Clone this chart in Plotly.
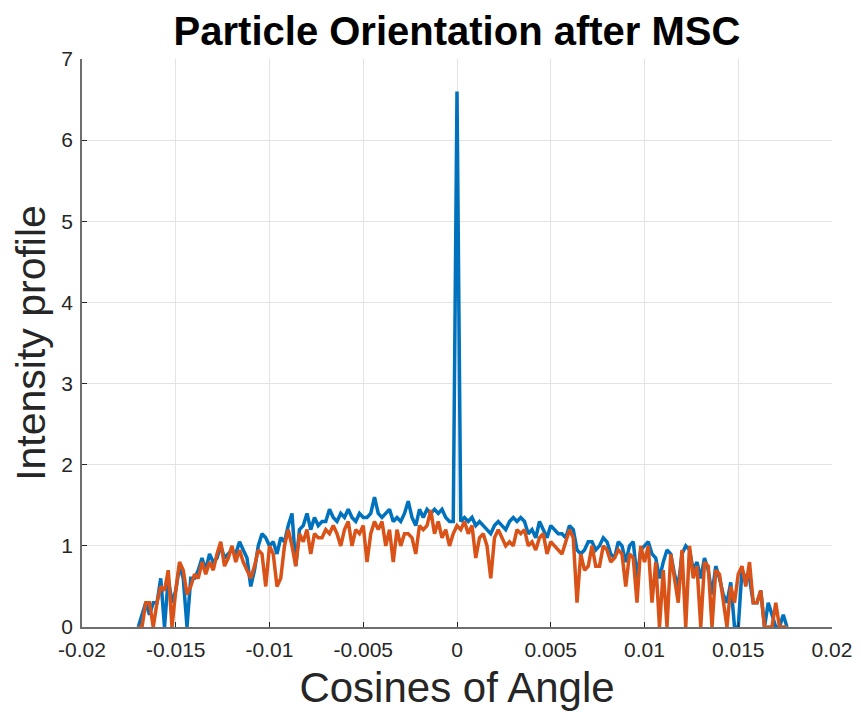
import numpy as np
import plotly.graph_objects as go

# bin centres: -0.0170 ... 0.0176 in steps of 0.0002
x_start = -0.0170
x_step = 0.0002

blue_vals = [
    0, 0.15, 0.3, 0.15, 0.3, 0.3, 0.6, 0, 0.6, 0.3,
    0.45, 0.75, 0.6, 0, 0.6, 0.6, 0.7, 0.85, 0.7, 0.9,
    0.8, 0.85, 1.0, 0.85, 0.9, 0.95, 0.9, 1.05, 0.95, 0.85,
    0.5, 0.7, 1.0, 1.15, 1.1, 1.0, 1.05, 0.9, 1.1, 1.05,
    1.25, 1.4, 0.75, 1.2, 1.25, 1.4, 1.2, 1.35, 1.25, 1.3,
    1.3, 1.45, 1.35, 1.3, 1.4, 1.35, 1.45, 1.35, 1.3, 1.4,
    1.35, 1.35, 1.4, 1.6, 1.4, 1.35, 1.4, 1.45, 1.3, 1.35,
    1.3, 1.4, 1.55, 1.35, 1.25, 1.45, 1.35, 1.45, 1.4, 1.45,
    1.4, 1.45, 1.35, 1.3, 1.3, 6.6, 1.3, 1.35, 1.3, 1.35,
    1.25, 1.3, 1.25, 1.2, 1.15, 1.25, 1.3, 1.25, 1.2, 1.3,
    1.35, 1.3, 1.35, 1.3, 1.15, 1.2, 1.1, 1.3, 1.2, 1.1,
    1.25, 1.2, 1.15, 1.15, 1.1, 1.25, 1.2, 0.95, 0.9, 0.95,
    1.05, 1.05, 0.95, 1.0, 1.1, 1.05, 0.9, 0.85, 1.05, 1.0,
    0.8, 1.0, 1.05, 0.6, 0.95, 1.0, 1.05, 0.9, 0.85, 0.6,
    0.8, 0.95, 0.9, 0.65, 0.5, 0.9, 1.0, 0.95, 0.7, 0.8,
    0.6, 0.85, 0.7, 0.4, 0.75, 0.6, 0.4, 0.3, 0.55, 0.0,
    0.0, 0.7, 0.6, 0.6, 0.3, 0.3, 0.45, 0.0, 0.3, 0.15,
    0.0, 0.0, 0.15, 0.0,
]

orange_vals = [
    0, 0, 0.3, 0.3, 0, 0.3, 0.5, 0.45, 0.7, 0.0,
    0.45, 0.8, 0.7, 0.4, 0.5, 0.65, 0.6, 0.8, 0.65, 0.8,
    0.7, 0.9, 1.05, 0.75, 0.85, 1.0, 0.8, 0.95, 0.8, 0.7,
    0.6, 0.75, 0.95, 0.9, 0.5, 1.0, 0.9, 0.5, 0.6, 1.0,
    1.2, 1.0, 0.75, 1.15, 1.05, 1.2, 0.9, 1.15, 1.1, 1.1,
    1.2, 1.15, 1.25, 1.15, 1.0, 1.2, 1.3, 1.0, 1.2, 1.15,
    1.25, 0.8, 1.15, 1.3, 1.2, 1.3, 1.0, 1.2, 0.8, 1.2,
    1.0, 1.15, 1.15, 1.1, 0.9, 1.25, 1.2, 1.25, 1.44, 1.15,
    1.3, 1.1, 1.2, 1.0, 1.15, 1.25, 1.2, 1.3, 1.15, 1.25,
    0.85, 1.1, 1.15, 1.0, 0.6, 1.1, 1.2, 1.1, 1.0, 1.05,
    1.0, 1.2, 1.15, 1.2, 1.0, 1.05, 0.95, 1.1, 1.15, 0.9,
    1.05, 1.0, 0.95, 0.9, 1.05, 1.2, 1.1, 0.3, 0.9, 0.7,
    0.75, 1.0, 0.75, 0.75, 1.0, 0.95, 0.8, 0.85, 0.95, 0.9,
    0.5, 0.9, 0.85, 0.3, 1.0, 0.8, 1.0, 0.3, 0.8, 0.0,
    0.7, 0.0, 0.9, 0.6, 0.3, 0.95, 0.0, 1.0, 0.6, 0.75,
    0.0, 0.8, 0.75, 0.0, 0.7, 0.65, 0.3, 0.0, 0.5, 0.3,
    0.65, 0.75, 0.5, 0.8, 0.3, 0.3, 0.45, 0.0, 0.0, 0.0,
    0.3, 0.0, 0.0, 0.0,
]

x_ticks = [-0.02, -0.015, -0.01, -0.005, 0, 0.005, 0.01, 0.015, 0.02]
x_tick_labels = ["-0.02", "-0.015", "-0.01", "-0.005", "0", "0.005", "0.01", "0.015", "0.02"]
y_ticks = [0, 1, 2, 3, 4, 5, 6, 7]

x_blue = [round(x_start + i * x_step, 6) for i in range(len(blue_vals))]
x_orange = [round(x_start + i * x_step, 6) for i in range(len(orange_vals))]

fig = go.Figure()
fig.add_trace(go.Scatter(x=x_blue, y=blue_vals, mode="lines",
                         line=dict(color="#0072BD", width=3.5), showlegend=False))
fig.add_trace(go.Scatter(x=x_orange, y=orange_vals, mode="lines",
                         line=dict(color="#D95319", width=3.5), showlegend=False))

font_family = "Liberation Sans, Arial, Helvetica, sans-serif"
fig.update_layout(
    width=861, height=720,
    margin=dict(l=74, r=37, t=51, b=101),
    paper_bgcolor="white", plot_bgcolor="white",
    font=dict(family=font_family, color="#262626"),
    title=dict(text="<b>Particle Orientation after MSC</b>", xref="paper", x=0.5,
               xanchor="center", y=0.968, yanchor="middle",
               font=dict(size=40, color="black")),
)
fig.update_xaxes(
    range=[-0.02, 0.02], tickvals=x_ticks, ticktext=x_tick_labels, ticklabelstandoff=3,
    showgrid=True, gridcolor="#e3e3e3", gridwidth=1,
    showline=True, linecolor="#6e6e6e", linewidth=1.5,
    ticks="inside", ticklen=5, tickcolor="#262626",
    tickfont=dict(size=21, color="#262626"), zeroline=False, automargin=False,
    title=dict(text="Cosines of Angle", font=dict(size=42, color="#262626"), standoff=13),
)
fig.update_yaxes(
    range=[0, 7], tickvals=y_ticks, ticklabelstandoff=3,
    showgrid=True, gridcolor="#e3e3e3", gridwidth=1,
    showline=True, linecolor="#6e6e6e", linewidth=1.5,
    ticks="inside", ticklen=5, tickcolor="#262626",
    tickfont=dict(size=21, color="#262626"), zeroline=False, automargin=False,
    title=dict(text="Intensity profile", font=dict(size=41, color="#262626"), standoff=15),
)
fig.write_html("out.html")
